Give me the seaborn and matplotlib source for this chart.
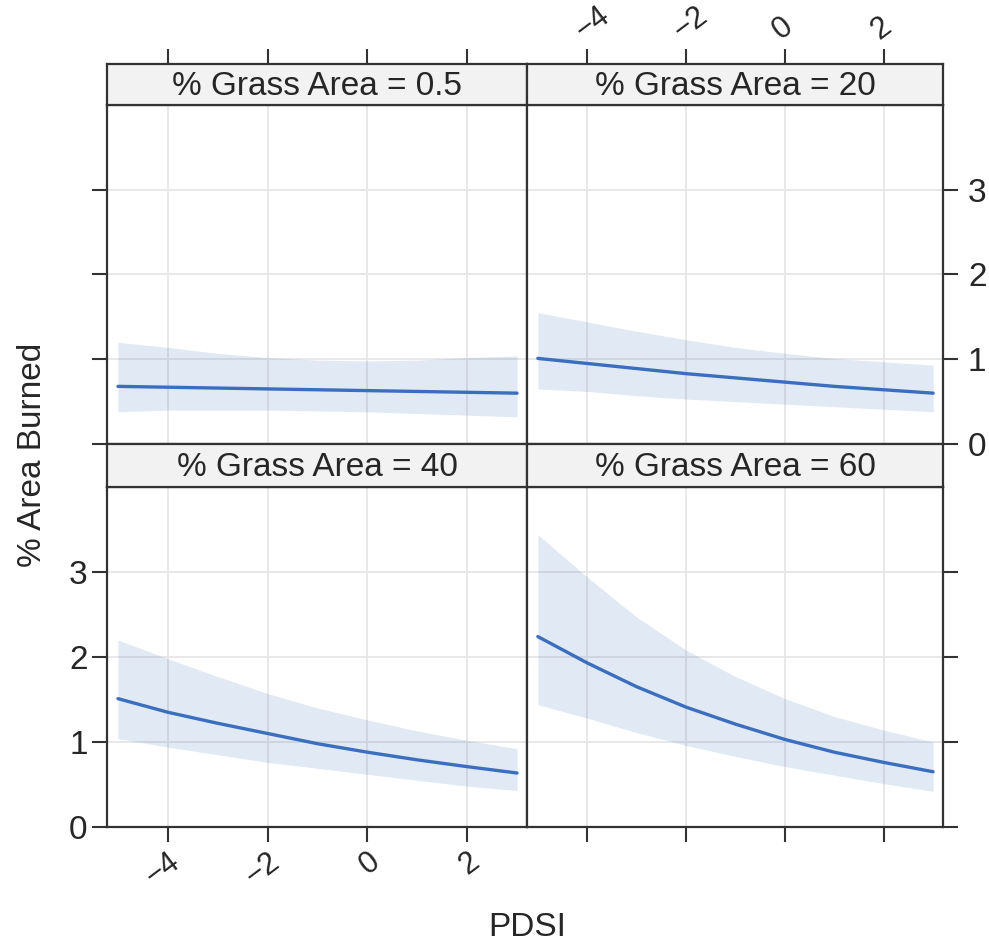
import numpy as np
import pandas as pd
import matplotlib
matplotlib.use("Agg")
import matplotlib.pyplot as plt
import seaborn as sns

pdsi = [-5, -4, -3, -2, -1, 0, 1, 2, 3]
grass_levels = ["0.5", "20", "40", "60"]

# fitted % area burned and confidence limits, one list per grass level
fit_05 = [0.68, 0.67, 0.66, 0.65, 0.64, 0.63, 0.62, 0.61, 0.60]
lower_05 = [0.38, 0.40, 0.40, 0.40, 0.39, 0.38, 0.36, 0.34, 0.32]
upper_05 = [1.20, 1.14, 1.07, 1.02, 0.99, 0.98, 0.99, 1.02, 1.04]

fit_20 = [1.01, 0.95, 0.89, 0.83, 0.78, 0.73, 0.68, 0.64, 0.60]
lower_20 = [0.65, 0.62, 0.57, 0.53, 0.50, 0.47, 0.44, 0.41, 0.38]
upper_20 = [1.55, 1.44, 1.33, 1.23, 1.14, 1.07, 1.01, 0.97, 0.93]

fit_40 = [1.51, 1.35, 1.22, 1.10, 0.98, 0.88, 0.79, 0.71, 0.635]
lower_40 = [1.04, 0.94, 0.85, 0.76, 0.69, 0.62, 0.55, 0.48, 0.43]
upper_40 = [2.20, 1.98, 1.77, 1.57, 1.40, 1.26, 1.13, 1.02, 0.92]

fit_60 = [2.24, 1.93, 1.65, 1.41, 1.21, 1.03, 0.88, 0.76, 0.65]
lower_60 = [1.44, 1.28, 1.11, 0.96, 0.83, 0.71, 0.61, 0.51, 0.42]
upper_60 = [3.44, 2.94, 2.47, 2.08, 1.77, 1.51, 1.30, 1.14, 1.00]

x_ticks = [-4, -2, 0, 2]
y_ticks = [0, 1, 2, 3]

fits = [fit_05, fit_20, fit_40, fit_60]
lowers = [lower_05, lower_20, lower_40, lower_60]
uppers = [upper_05, upper_20, upper_40, upper_60]
frames = []
for g, f, lo, up in zip(grass_levels, fits, lowers, uppers):
    frames.append(pd.DataFrame({"pdsi": pdsi, "fit": f, "lower": lo, "upper": up, "grass": g}))
df = pd.concat(frames, ignore_index=True)

sns.set_style("white")
plt.rcParams["font.family"] = ["Liberation Sans", "DejaVu Sans"]
plt.rcParams["axes.unicode_minus"] = True

W, H = 989, 947
fig = plt.figure(figsize=(W / 100, H / 100), dpi=100)

line_col = "#3B6EBE"
frame_col = "#333333"
grid_col = "#E6E6E6"
text_col = "#262626"
tick_fs = 24
xtick_fs = 22
lab_fs = 24
rot = 37

def fr(x0, y_top, x1, y_bot):
    return [x0 / W, 1 - y_bot / H, (x1 - x0) / W, (y_bot - y_top) / H]

# panel pixel boxes: (left, right, strip top, strip bottom, plot bottom)
boxes = {
    "0.5": (107, 527, 64, 105, 444),
    "20": (527, 943, 64, 105, 444),
    "40": (107, 527, 444, 487, 827),
    "60": (527, 943, 444, 487, 827),
}

xlim = (-5.22, 3.2)
ylim = (0, 4)

for g in grass_levels:
    x0, x1, st, sb, pb = boxes[g]
    ax = fig.add_axes(fr(x0, sb, x1, pb))
    sax = fig.add_axes(fr(x0, st, x1, sb))
    sub = df[df["grass"] == g]

    ax.fill_between(sub["pdsi"], sub["lower"], sub["upper"], color=line_col,
                    alpha=0.15, linewidth=0, zorder=2)
    sns.lineplot(data=sub, x="pdsi", y="fit", ax=ax, color=line_col,
                 linewidth=2.4, zorder=3)
    ax.set_xlim(xlim)
    ax.set_ylim(ylim)
    ax.set_xticks(x_ticks)
    ax.set_yticks(y_ticks)
    ax.grid(True, color=grid_col, linewidth=1.3, zorder=1)
    ax.set_axisbelow(True)
    ax.set_xlabel("")
    ax.set_ylabel("")
    for sp in ax.spines.values():
        sp.set_color(frame_col)
        sp.set_linewidth(1.6)
    ax.tick_params(direction="out", length=11, width=1.5, color=frame_col,
                   labelsize=tick_fs, labelcolor=text_col,
                   bottom=False, top=False, left=False, right=False,
                   labelbottom=False, labeltop=False, labelleft=False, labelright=False)
    ax.tick_params(axis="x", labelsize=xtick_fs)

    sax.set_xlim(xlim)
    sax.set_facecolor("#F2F2F2")
    sax.set_yticks([])
    sax.set_xticks(x_ticks)
    sax.tick_params(direction="out", length=11, width=1.5, color=frame_col,
                    labelsize=xtick_fs, labelcolor=text_col,
                    bottom=False, top=False, labelbottom=False, labeltop=False)
    for sp in sax.spines.values():
        sp.set_color(frame_col)
        sp.set_linewidth(1.6)
    sax.text(0.5, 0.45, f"% Grass Area = {g}", transform=sax.transAxes,
             ha="center", va="center", fontsize=lab_fs, color=text_col)

    if g == "0.5":
        ax.tick_params(left=True)
        sax.tick_params(top=True)
    elif g == "20":
        ax.tick_params(right=True, labelright=True, pad=7)
        sax.tick_params(top=True, labeltop=True, pad=2)
        for lab in sax.get_xticklabels():
            lab.set_rotation(rot)
            lab.set_ha("left")
            lab.set_va("bottom")
            lab.set_rotation_mode("anchor")
    elif g == "40":
        ax.tick_params(left=True, labelleft=True, bottom=True, labelbottom=True, pad=3)
        for lab in ax.get_xticklabels():
            lab.set_rotation(rot)
            lab.set_ha("right")
            lab.set_va("top")
            lab.set_rotation_mode("anchor")
    else:
        ax.tick_params(right=True, bottom=True)

fig.text(33 / W, 1 - 455 / H, "% Area Burned", rotation=90, ha="center", va="center",
         fontsize=lab_fs, color=text_col)
fig.text(527 / W, 1 - 927 / H, "PDSI", ha="center", va="center",
         fontsize=lab_fs, color=text_col)

fig.savefig("out.png", dpi=100)
